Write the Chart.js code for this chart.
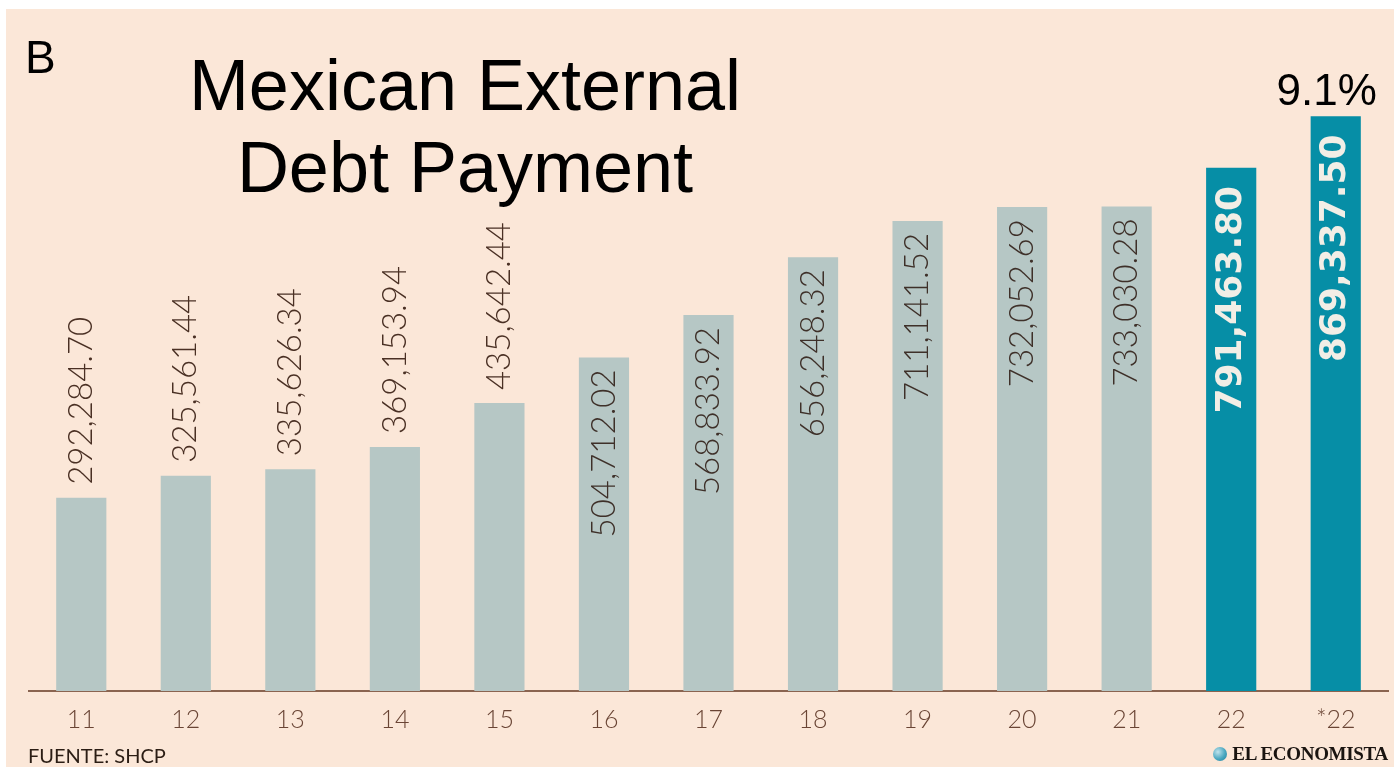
<!DOCTYPE html>
<html>
<head>
<meta charset="utf-8">
<script src="https://cdn.jsdelivr.net/npm/chart.js@4.4.1/dist/chart.umd.min.js"></script>
<style>
	html, body { margin: 0; padding: 0; background: #ffffff; }
	#frame {
		position: absolute; left: 6px; top: 9px; width: 1388px; height: 758px;
		background: #fbe7d8;
	}
	#wrap { position: absolute; left: 0; top: 0; width: 1394px; height: 767px; }
	.txt { position: absolute; white-space: nowrap; }
	#panel { left: 25px; top: 30px; font: 46px "Liberation Sans", Arial, sans-serif; color: #000; }
	#title {
		left: 165px; width: 600px; top: 44px; text-align: center;
		font: 72px/82px "Liberation Sans", Arial, sans-serif; color: #000;
	}
	#source { left: 28px; top: 743px; font: 400 20px Lato, sans-serif; color: #2b1d14; }
	#brand {
		right: 6px; top: 743px; font: bold 19px "Liberation Serif", serif; color: #1a1410;
		letter-spacing: -0.3px;
	}
	#brand .dot {
		display: inline-block; width: 14px; height: 14px; border-radius: 50%; margin-right: 5px;
		vertical-align: -1px;
		background: radial-gradient(circle at 35% 35%, #bfe3ec 0%, #4aa7c0 55%, #1d7f9c 100%);
	}
</style>
</head>
<body>
<div id="frame"></div>
<div id="wrap"><canvas id="chartDebt"></canvas></div>
<div class="txt" id="panel">B</div>
<div class="txt" id="title">Mexican External<br>Debt Payment</div>
<div class="txt" id="source">FUENTE: SHCP</div>
<div class="txt" id="brand"><span class="dot"></span>EL ECONOMISTA</div>
<script>
	// years (20xx), *22 = estimate
	const years = ["11", "12", "13", "14", "15", "16", "17", "18", "19", "20", "21", "22", "*22"];
	const payments = [
		292284.70, 325561.44, 335626.34, 369153.94, 435642.44, 504712.02, 568833.92,
		656248.32, 711141.52, 732052.69, 733030.28, 791463.80, 869337.50,
	];
	const highlighted = [false, false, false, false, false, false, false, false, false, false, false, true, true];
	const growthNote = "9.1%";

	const GRAY = "#b6c7c5";
	const TEAL = "#068ea6";
	const INSIDE_FROM = 500000;

	const fmt = (v) =>
		v.toLocaleString("en-US", { minimumFractionDigits: 2, maximumFractionDigits: 2 });

	const barLabels = {
		id: "barLabels",
		afterDatasetsDraw(chart) {
			const { ctx } = chart;
			const meta = chart.getDatasetMeta(0);
			meta.data.forEach((bar, i) => {
				const v = payments[i];
				ctx.save();
				ctx.textBaseline = "middle";
				if (highlighted[i]) {
					ctx.font = "bold 36px 'DejaVu Sans', sans-serif";
					ctx.fillStyle = "#f2eee6";
					ctx.translate(bar.x, bar.y + 18);
					ctx.rotate(-Math.PI / 2);
					ctx.textAlign = "right";
				} else if (v >= INSIDE_FROM) {
					ctx.font = "300 33px Lato, sans-serif";
					ctx.fillStyle = "#3e3029";
					ctx.translate(bar.x, bar.y + 12);
					ctx.rotate(-Math.PI / 2);
					ctx.textAlign = "right";
				} else {
					ctx.font = "300 33px Lato, sans-serif";
					ctx.fillStyle = "#4a3024";
					ctx.translate(bar.x, bar.y - 13);
					ctx.rotate(-Math.PI / 2);
					ctx.textAlign = "left";
				}
				ctx.fillText(fmt(v), 0, 0);
				ctx.restore();
			});

			// growth note above the last bar
			const last = meta.data[meta.data.length - 1];
			ctx.save();
			ctx.font = "44px 'Liberation Sans', Arial, sans-serif";
			ctx.fillStyle = "#000";
			ctx.textAlign = "center";
			ctx.textBaseline = "alphabetic";
			ctx.fillText(growthNote, last.x - 9, last.y - 11);
			ctx.restore();
		},
	};

	new Chart(document.getElementById("chartDebt"), {
		type: "bar",
		data: {
			labels: years,
			datasets: [
				{
					data: payments,
					backgroundColor: highlighted.map((h) => (h ? TEAL : GRAY)),
					borderWidth: 0,
					barPercentage: 0.48,
					categoryPercentage: 1,
				},
			],
		},
		options: {
			responsive: true,
			maintainAspectRatio: false,
			animation: false,
			devicePixelRatio: 1,
			layout: { padding: { top: 30, left: 29, right: 6, bottom: 0 } },
			plugins: {
				legend: { display: false },
				tooltip: { enabled: false },
			},
			scales: {
				x: {
					grid: { display: false, drawTicks: false },
					border: { display: true, color: "#8a6450", width: 2 },
					ticks: {
						padding: 14,
						color: "#6a4535",
						font: { family: "Lato", size: 25, weight: "300" },
					},
					afterFit(scale) {
						scale.height = 76;
					},
				},
				y: {
					display: false,
					min: 0,
					max: 1000000,
				},
			},
		},
		plugins: [barLabels],
	});
</script>
</body>
</html>
